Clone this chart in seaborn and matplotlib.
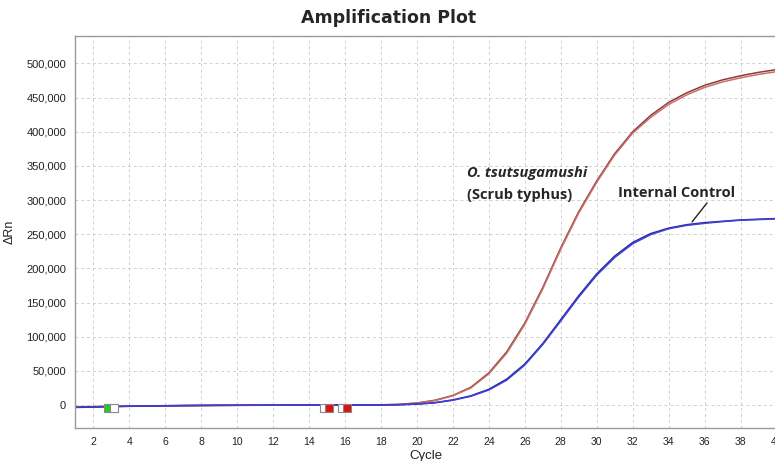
import numpy as np
import matplotlib.pyplot as plt
import seaborn as sns
import pandas as pd

cycles = list(range(1, 41))
scrub_a = [-3000, -2500, -2000, -1600, -1300, -1000, -800, -600, -500, -400,
           -300, -300, -200, -200, -100, 0, 100, 300, 1000, 3000,
           7000, 14000, 26000, 47000, 78000, 120000, 172000, 230000, 283000, 328000,
           368000, 400000, 424000, 443000, 457000, 468000, 476000, 482000, 487000, 491000]
scrub_b = [-2500, -2200, -1800, -1400, -1100, -900, -700, -500, -400, -300,
           -300, -200, -200, -100, -100, 0, 100, 300, 900, 2800,
           6500, 13500, 25000, 45500, 76000, 118000, 170000, 228000, 281000, 326000,
           366000, 398000, 421000, 440000, 454000, 465000, 473000, 479000, 484000, 488000]
ic_a = [-3500, -3000, -2400, -1900, -1500, -1200, -900, -700, -500, -400,
        -300, -200, -200, -100, -100, 0, 0, 100, 500, 1500,
        3500, 7500, 13500, 23000, 38000, 60000, 90000, 125000, 160000, 192000,
        218000, 238000, 251000, 259000, 264000, 267000, 269000, 271000, 272000, 273000]
ic_b = [-3000, -2600, -2100, -1700, -1300, -1000, -800, -600, -400, -300,
        -300, -200, -100, -100, 0, 0, 0, 100, 400, 1300,
        3200, 7000, 12800, 22000, 36500, 58500, 88500, 123000, 158000, 190000,
        216000, 236000, 249500, 258000, 263000, 266000, 268500, 270500, 271500, 272500]

marker_x = [2.8, 3.15, 14.8, 15.1, 15.8, 16.1]
marker_y = [-4000, -4000, -4000, -4000, -4000, -4000]
marker_fill = ['#22cc22', 'white', 'white', '#dd1111', 'white', '#dd1111']

sns.set_style('white')
plt.rcParams['font.family'] = ['Liberation Sans', 'DejaVu Sans']

df = pd.DataFrame({
    'Cycle': cycles * 4,
    'dRn': scrub_a + scrub_b + ic_a + ic_b,
    'well': ['s1'] * 40 + ['s2'] * 40 + ['i1'] * 40 + ['i2'] * 40,
})
pal = {'s1': '#8e3a38', 's2': '#c7706b', 'i1': '#25259e', 'i2': '#4040d4'}

fig = plt.figure(figsize=(7.75, 4.61), dpi=100)
ax = fig.add_axes([0.097, 0.0716, 0.905, 0.850])
sns.lineplot(data=df, x='Cycle', y='dRn', hue='well', palette=pal, units='well',
             estimator=None, legend=False, linewidth=1.1, ax=ax)

ax.scatter(marker_x, marker_y, marker='s', s=30, c=marker_fill,
           edgecolors='#888888', linewidths=0.8, zorder=5)

ax.set_xlim(1, 40)
ax.set_ylim(-33600, 540000)
ax.set_xticks(np.arange(2, 41, 2))
ax.set_yticks(np.arange(0, 500001, 50000))
ax.set_yticklabels([f'{v:,}' for v in range(0, 500001, 50000)])
ax.tick_params(axis='both', labelsize=8, colors='#222222', length=3, color='#888888')
ax.tick_params(axis='x', labelsize=7.5)
ax.grid(True, linestyle=(0, (3, 3)), color='#d0d0d0', linewidth=0.7)
for s in ax.spines.values():
    s.set_color('#999999')
    s.set_linewidth(1)

ax.set_xlabel('Cycle', fontsize=9.5, color='#222222', labelpad=2)
ax.set_ylabel('ΔRn', fontsize=9, color='#222222', labelpad=8)
fig.text(0.502, 0.962, 'Amplification Plot', ha='center', va='center',
         fontsize=12.5, fontweight='bold', family=['DejaVu Sans'])

ax.text(22.8, 339000, 'O. tsutsugamushi', fontsize=10.5, fontweight='bold',
        style='italic', va='center', family=['Open Sans', 'DejaVu Sans'])
ax.text(22.8, 307000, '(Scrub typhus)', fontsize=10.5, fontweight='bold',
        va='center', family=['Open Sans', 'DejaVu Sans'])
ax.annotate('Internal Control', xy=(35.3, 268000), xytext=(31.2, 311000),
            fontsize=10.5, fontweight='bold', va='center',
            family=['Open Sans', 'DejaVu Sans'],
            arrowprops=dict(arrowstyle='-', color='#222222', lw=1,
                            shrinkA=0, shrinkB=0, relpos=(0.78, 0)))

plt.savefig('out.png', dpi=100)
